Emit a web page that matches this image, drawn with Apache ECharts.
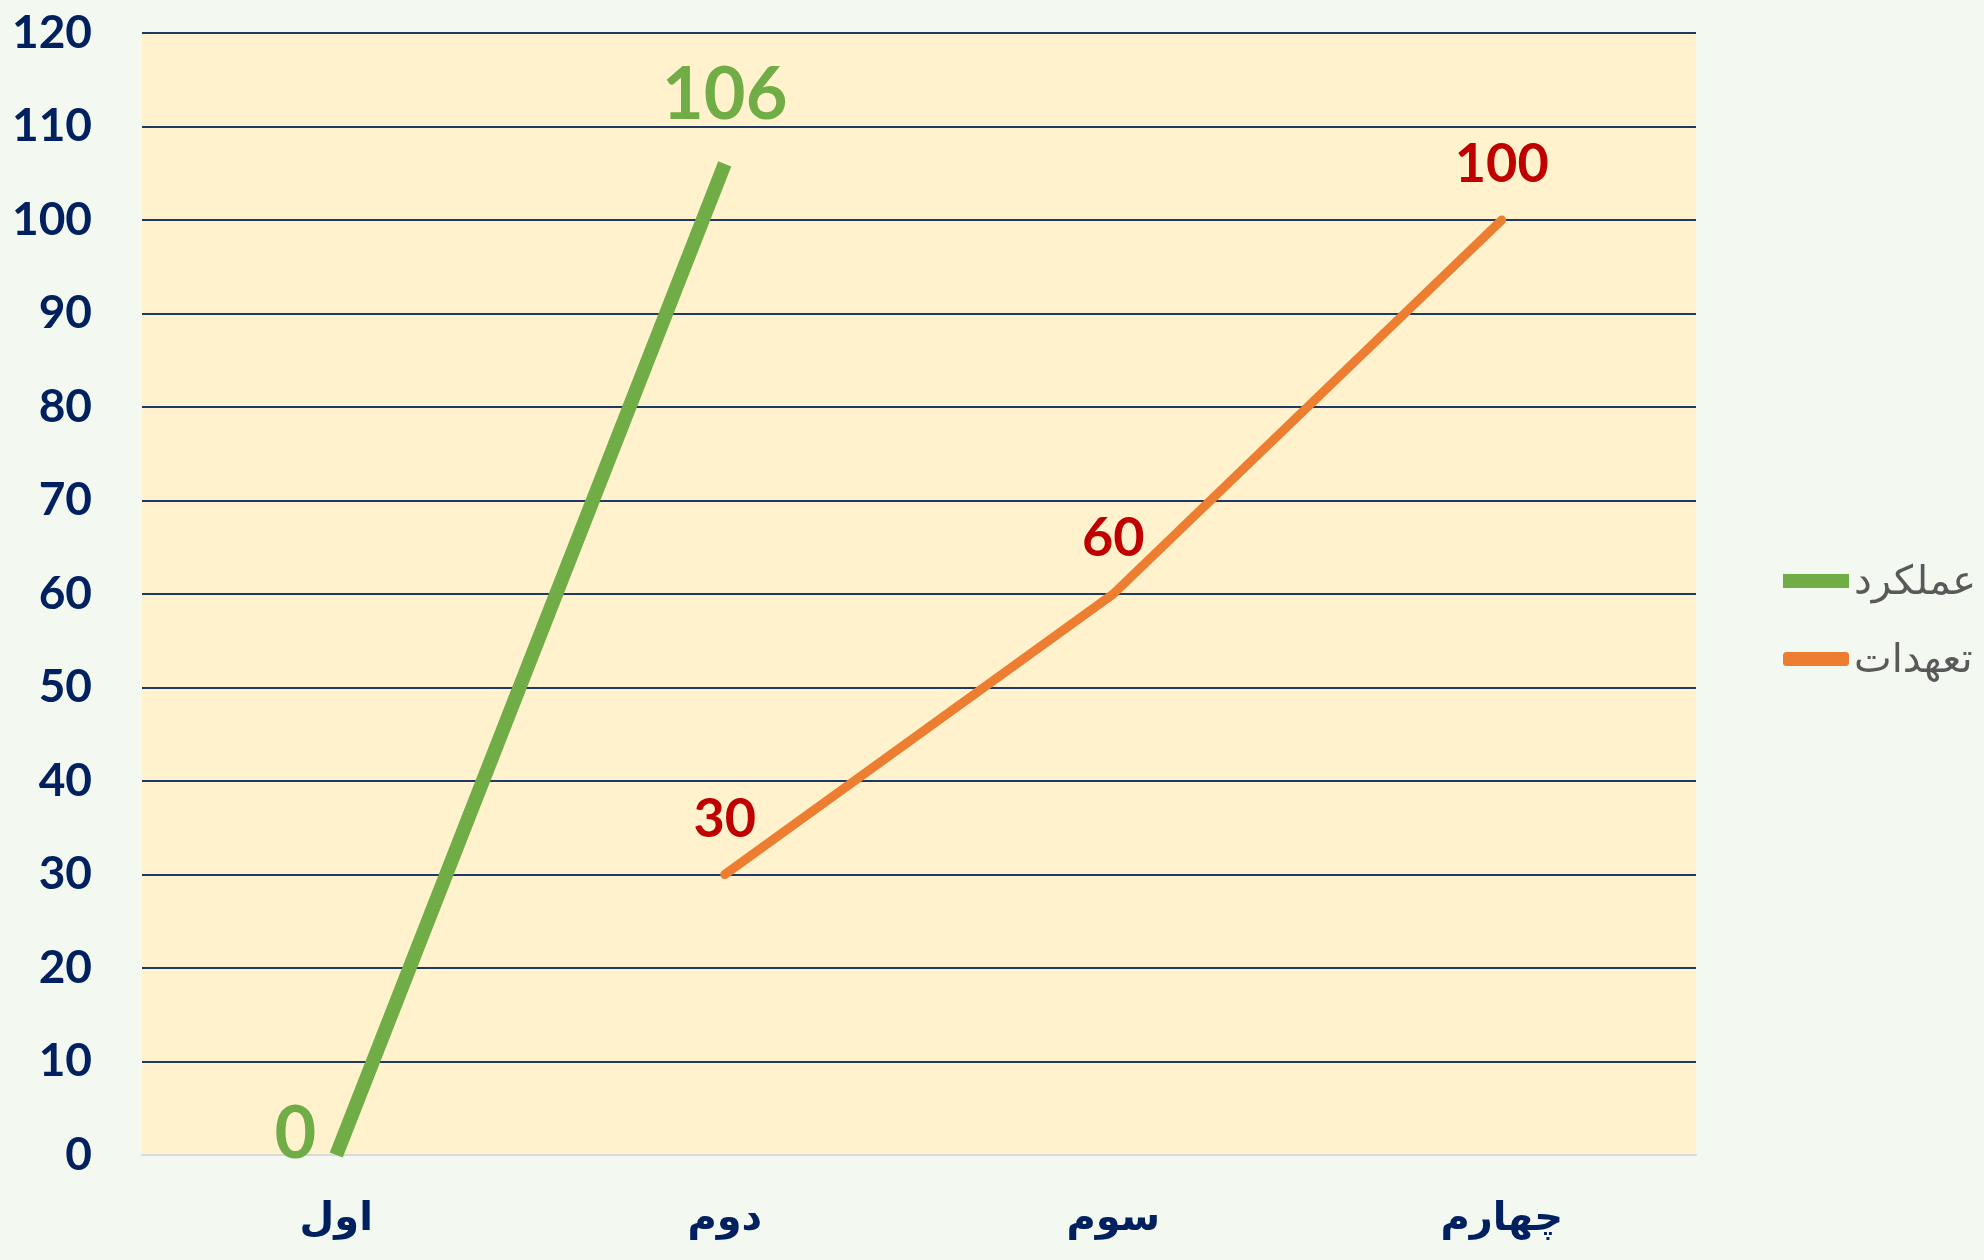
<!DOCTYPE html>
<html>
<head>
<meta charset="utf-8">
<script src="https://cdn.jsdelivr.net/npm/echarts@6/dist/echarts.min.js"></script>
<style>
  html, body { margin: 0; padding: 0; background: #f3f8f1; }
  #main { width: 1984px; height: 1260px; }
</style>
</head>
<body>
<div id="main"></div>
<script>
  // دسته‌ها و داده‌ها
  var categories = ['اول', 'دوم', 'سوم', 'چهارم'];
  var seriesNames = ['عملکرد', 'تعهدات'];
  var performance = [0, 106, null, null];
  var commitments = [null, 30, 60, 100];
  var yTicks = [0, 10, 20, 30, 40, 50, 60, 70, 80, 90, 100, 110, 120];

  var navy = '#002060';
  var font = 'Lato, "DejaVu Sans", sans-serif';

  // خط محور صفر خاکستری، بقیه سرمه‌ای
  var splitColors = yTicks.map(function (t, i) { return i === 0 ? '#d9d9d9' : '#1f3864'; });

  var greenData = performance.map(function (v, i) {
    if (i === 0) {
      return { value: v, label: { position: 'left', distance: 20, offset: [0, -20] } };
    }
    return v;
  });

  var myChart = echarts.init(document.getElementById('main'));
  var option = {
    backgroundColor: '#f3f8f1',
    animation: false,
    grid: {
      left: 142,
      right: 288,
      top: 33,
      bottom: 105,
      show: true,
      backgroundColor: '#fff2cc',
      borderWidth: 0
    },
    legend: {
      orient: 'vertical',
      left: 1778,
      top: 556,
      itemWidth: 66,
      itemHeight: 14,
      itemGap: 38,
      data: [
        { name: seriesNames[0], icon: 'rect' },
        { name: seriesNames[1], icon: 'roundRect' }
      ],
      textStyle: { color: '#595959', fontSize: 40, fontFamily: font }
    },
    xAxis: {
      type: 'category',
      data: categories,
      axisTick: { show: false },
      axisLine: { lineStyle: { color: '#d9d9d9', width: 2 } },
      axisLabel: {
        color: navy,
        fontSize: 40,
        fontWeight: 'bold',
        fontFamily: font,
        margin: 42
      }
    },
    yAxis: {
      type: 'value',
      min: 0,
      max: 120,
      interval: 10,
      axisLine: { show: false },
      axisTick: { show: false },
      axisLabel: {
        color: navy,
        fontSize: 46,
        fontWeight: 'bold',
        fontFamily: font,
        margin: 50
      },
      splitLine: { lineStyle: { color: splitColors, width: 2 } }
    },
    series: [
      {
        name: seriesNames[0],
        type: 'line',
        data: greenData,
        symbol: 'circle',
        symbolSize: 0,
        color: '#70ad47',
        lineStyle: { width: 14, cap: 'butt' },
        label: {
          show: true,
          position: 'top',
          distance: 32,
          color: '#70ad47',
          fontSize: 72,
          fontWeight: 'bold',
          fontFamily: font
        }
      },
      {
        name: seriesNames[1],
        type: 'line',
        data: commitments,
        symbol: 'circle',
        symbolSize: 0,
        color: '#ed7d31',
        lineStyle: { width: 9, cap: 'round', join: 'round' },
        label: {
          show: true,
          position: 'top',
          distance: 28,
          color: '#c00000',
          fontSize: 54,
          fontWeight: 'bold',
          fontFamily: font
        }
      }
    ]
  };
  myChart.setOption(option);
</script>
</body>
</html>
